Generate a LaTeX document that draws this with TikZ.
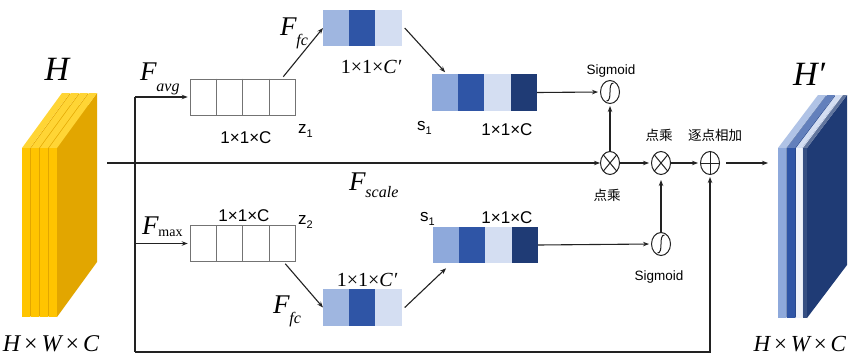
\documentclass[tikz,border=0pt]{standalone}
\usepackage{fontspec}
\setmainfont{Liberation Serif}
\newfontfamily\sansf{Liberation Sans}
\newfontfamily\cjkf{Noto Sans CJK SC}
\usetikzlibrary{arrows.meta,shapes.geometric,calc}
\definecolor{yfront}{HTML}{FFC400}
\definecolor{ytop}{HTML}{FFD535}
\definecolor{yside}{HTML}{E2A600}
\definecolor{cLight}{HTML}{8EA9DB}
\definecolor{cMid}{HTML}{2F55A6}
\definecolor{cPale}{HTML}{D4DEF2}
\definecolor{cNavy}{HTML}{1F3B75}
\definecolor{lnc}{HTML}{222222}
\begin{document}
\begin{tikzpicture}[x=1pt,y=-1pt,
  ln/.style={line width=1.1pt, draw=lnc},
  arr/.style={ln, -{Stealth[length=6pt,width=4.5pt]}},
  op/.style={ellipse, draw=lnc, line width=1pt, minimum width=19pt, minimum height=23pt, inner sep=0pt},
  otimesop/.style={op, path picture={\draw[line width=1pt,lnc] (path picture bounding box.north west) -- (path picture bounding box.south east) (path picture bounding box.north east) -- (path picture bounding box.south west);}},
  oplusop/.style={op, path picture={\draw[line width=1pt,lnc] (path picture bounding box.north) -- (path picture bounding box.south) (path picture bounding box.west) -- (path picture bounding box.east);}},
  sigop/.style={op, path picture={\draw[line width=1pt,lnc] ([xshift=3.5pt,yshift=9pt]path picture bounding box.center) .. controls ([xshift=0.5pt,yshift=9pt]path picture bounding box.center) and ([xshift=0pt,yshift=5pt]path picture bounding box.center) .. (path picture bounding box.center) .. controls ([xshift=0pt,yshift=-5pt]path picture bounding box.center) and ([xshift=-0.5pt,yshift=-9pt]path picture bounding box.center) .. ([xshift=-3.5pt,yshift=-9pt]path picture bounding box.center);}},
  wbox/.style={draw=black!55, line width=0.6pt, fill=white, minimum width=105pt, minimum height=36pt, inner sep=0pt},
  cell/.style={minimum width=26.25pt, minimum height=36.5pt, inner sep=0pt, outer sep=0pt},
  lab/.style={inner sep=0pt, outer sep=0pt},
  sans/.style={lab, font=\sansf\fontsize{17}{17}\selectfont},
  sig/.style={lab, font=\sansf\fontsize{13.5}{14}\selectfont},
  cjk/.style={lab, font=\cjkf\fontsize{13.5}{14}\selectfont},
  ser/.style={lab, font=\fontsize{20}{20}\selectfont}
]
\useasboundingbox (0,0) rectangle (848,356);
\fill[white] (0,0) rectangle (848,356);

% ---- yellow input stack ----
\foreach \i in {0,...,3} {
  \pgfmathsetmacro\xa{22+9*\i}
  \fill[yside] (\xa+8,148) -- (\xa+48,93) -- (\xa+48,262) -- (\xa+8,317) -- cycle;
  \fill[ytop] (\xa,148) -- (\xa+8,148) -- (\xa+48,93) -- (\xa+40,93) -- cycle;
  \fill[yfront] (\xa,148) rectangle (\xa+8,317);
}
% ---- blue output stack ----
\foreach \xa/\t/\cf/\ct/\cs in {778/8/cLight/cLight!70!white/cLight!85!black, 787/8/cMid/cMid!75!white/cMid!85!black, 796/6/cPale!40!white/cPale/cPale!60!white, 803/4/cNavy!90!white/cNavy!70!white/cNavy} {
  \fill[\cs] (\xa+\t,148) -- (\xa+\t+40,95) -- (\xa+\t+40,265) -- (\xa+\t,318) -- cycle;
  \fill[\ct] (\xa,148) -- (\xa+\t,148) -- (\xa+\t+40,95) -- (\xa+40,95) -- cycle;
  \fill[\cf] (\xa,148) rectangle (\xa+\t,318);
}

% ---- labels of stacks ----
\node[lab, anchor=base] (Hlab) at (57,80) {\fontsize{34}{34}\selectfont\itshape H};
\node[lab, anchor=base] (HWC1) at (51,351) {\fontsize{24}{24}\selectfont\itshape H\,\upshape×\,\itshape W\,\upshape×\,\itshape C};
\node[lab, anchor=base] (Hplab) at (809,85) {\fontsize{34}{34}\selectfont\itshape H′};
\node[lab, anchor=base east] (HWC2) at (846,351) {\fontsize{23}{23}\selectfont\itshape H\,\upshape×\,\itshape W\,\upshape×\,\itshape C};

% ---- white boxes z1, z2 ----
\node[wbox] (z1) at (242.5,97) {};
\node[wbox] (z2) at (242.5,243.5) {};
\foreach \b in {z1,z2} {
  \foreach \f in {0.25,0.5,0.75}
    \draw[black!55, line width=0.6pt] ($(\b.north west)!\f!(\b.north east)$) -- ($(\b.south west)!\f!(\b.south east)$);
}

% ---- coloured boxes ----
\node[cell, fill=cLight!85!white] (fT1) at (336.1,28) {};
\node[cell, fill=cMid] (fT2) at (362.4,28) {};
\node[cell, fill=cPale] (fT3) at (388.6,28) {};

\node[cell, fill=cLight] (sT1) at (445.1,92.5) {};
\node[cell, fill=cMid] (sT2) at (471.4,92.5) {};
\node[cell, fill=cPale] (sT3) at (497.6,92.5) {};
\node[cell, fill=cNavy] (sT4) at (523.9,92.5) {};

\node[cell, fill=cLight!85!white] (fB1) at (336.1,307.5) {};
\node[cell, fill=cMid] (fB2) at (362.4,307.5) {};
\node[cell, fill=cPale] (fB3) at (388.6,307.5) {};

\node[cell, fill=cLight] (sB1) at (446.1,245) {};
\node[cell, fill=cMid] (sB2) at (472.4,245) {};
\node[cell, fill=cPale] (sB3) at (498.6,245) {};
\node[cell, fill=cNavy] (sB4) at (524.9,245) {};

% ---- operators ----
\node[sigop] (sig1) at (610,92) {};
\node[otimesop] (m1) at (610,163) {};
\node[otimesop] (m2) at (661,163) {};
\node[oplusop] (add) at (710,163) {};
\node[sigop] (sig2) at (661,244) {};

% ---- coordinates ----
\coordinate (Hout) at (107,163);
\coordinate (sp1) at (135,97);
\coordinate (sp2) at (135,243.5);
\coordinate (sp3) at (135,352);
\coordinate (Hin) at (768,163);

% ---- connectors ----
\draw[arr] (Hout) -- (m1);
\draw[ln] (sp1) -- (sp3);
\draw[arr, shorten >=2pt] (sp3) -| (add);
\draw[arr, shorten >=2pt] (sp1) -- (z1.west);
\draw[arr, shorten >=2pt] (sp2) -- (z2.west);
\draw[arr] ([xshift=-12pt,yshift=2pt]z1.north east) -- (fT1.west);
\draw[arr] ([xshift=3pt]fT3.east) -- ([yshift=2pt]sT1.north);
\draw[arr, shorten >=2pt] (sT4.east) -- (sig1.west);
\draw[arr, shorten >=2pt] (m1) -- (sig1);
\draw[arr, shorten >=2pt] (m1) -- (m2);
\draw[arr, shorten >=2pt] (m2) -- (add);
\draw[arr, shorten <=6pt] (add) -- (Hin);
\draw[arr] ([xshift=-10pt,yshift=-2pt]z2.south east) -- (fB1.west);
\draw[arr] ([xshift=3pt]fB3.east) -- ([yshift=-5pt]sB1.south);
\draw[arr, shorten >=2pt] (sB4.east) -- (sig2.west);
\draw[arr, shorten >=5pt] (sig2) -- (m2);

% ---- text labels ----
\node[lab, anchor=base west] (Favg) at (140,80) {\fontsize{27}{27}\selectfont\itshape F\raisebox{-11pt}{\fontsize{16}{16}\selectfont avg}};
\node[lab, anchor=base west] (Fmax) at (142,234) {\fontsize{27}{27}\selectfont\itshape F\raisebox{-2pt}{\fontsize{14}{14}\selectfont\upshape max}};
\node[lab, anchor=base west] (FfcT) at (280,35) {\fontsize{27}{27}\selectfont\itshape F\raisebox{-10pt}{\fontsize{16}{16}\selectfont fc}};
\node[lab, anchor=base west] (FfcB) at (273,313) {\fontsize{27}{27}\selectfont\itshape F\raisebox{-10pt}{\fontsize{16}{16}\selectfont fc}};
\node[lab, anchor=base west] (Fscale) at (349,190) {\fontsize{27}{27}\selectfont\itshape F\raisebox{-7pt}{\fontsize{16}{16}\selectfont scale}};

\node[sans, anchor=base] (c1) at (246,143) {1×1×C};
\node[sans, anchor=base] (c2) at (244,221) {1×1×C};
\node[sans, anchor=base] (c3) at (507,135) {1×1×C};
\node[sans, anchor=base] (c4) at (507,223) {1×1×C};
\node[sans, anchor=base west] (z1l) at (298,133) {z\raisebox{-4pt}{\fontsize{11}{11}\selectfont 1}};
\node[sans, anchor=base west] (z2l) at (298,224) {z\raisebox{-4pt}{\fontsize{11}{11}\selectfont 2}};
\node[sans, anchor=base west] (s1t) at (417,130) {s\raisebox{-4pt}{\fontsize{11}{11}\selectfont 1}};
\node[sans, anchor=base west] (s1b) at (420,221) {s\raisebox{-4pt}{\fontsize{11}{11}\selectfont 1}};
\node[ser, anchor=base] (cp1) at (371,73) {1×1×\itshape C′};
\node[ser, anchor=base] (cp2) at (367,286) {1×1×\itshape C′};

\node[sig, anchor=base] (sigl1) at (611,74) {Sigmoid};
\node[sig, anchor=base] (sigl2) at (659,280) {Sigmoid};
\node[cjk] (dc1) at (607,195) {点乘};
\node[cjk] (dc2) at (659,135) {点乘};
\node[cjk] (zd) at (715,135) {逐点相加};
\end{tikzpicture}
\end{document}
